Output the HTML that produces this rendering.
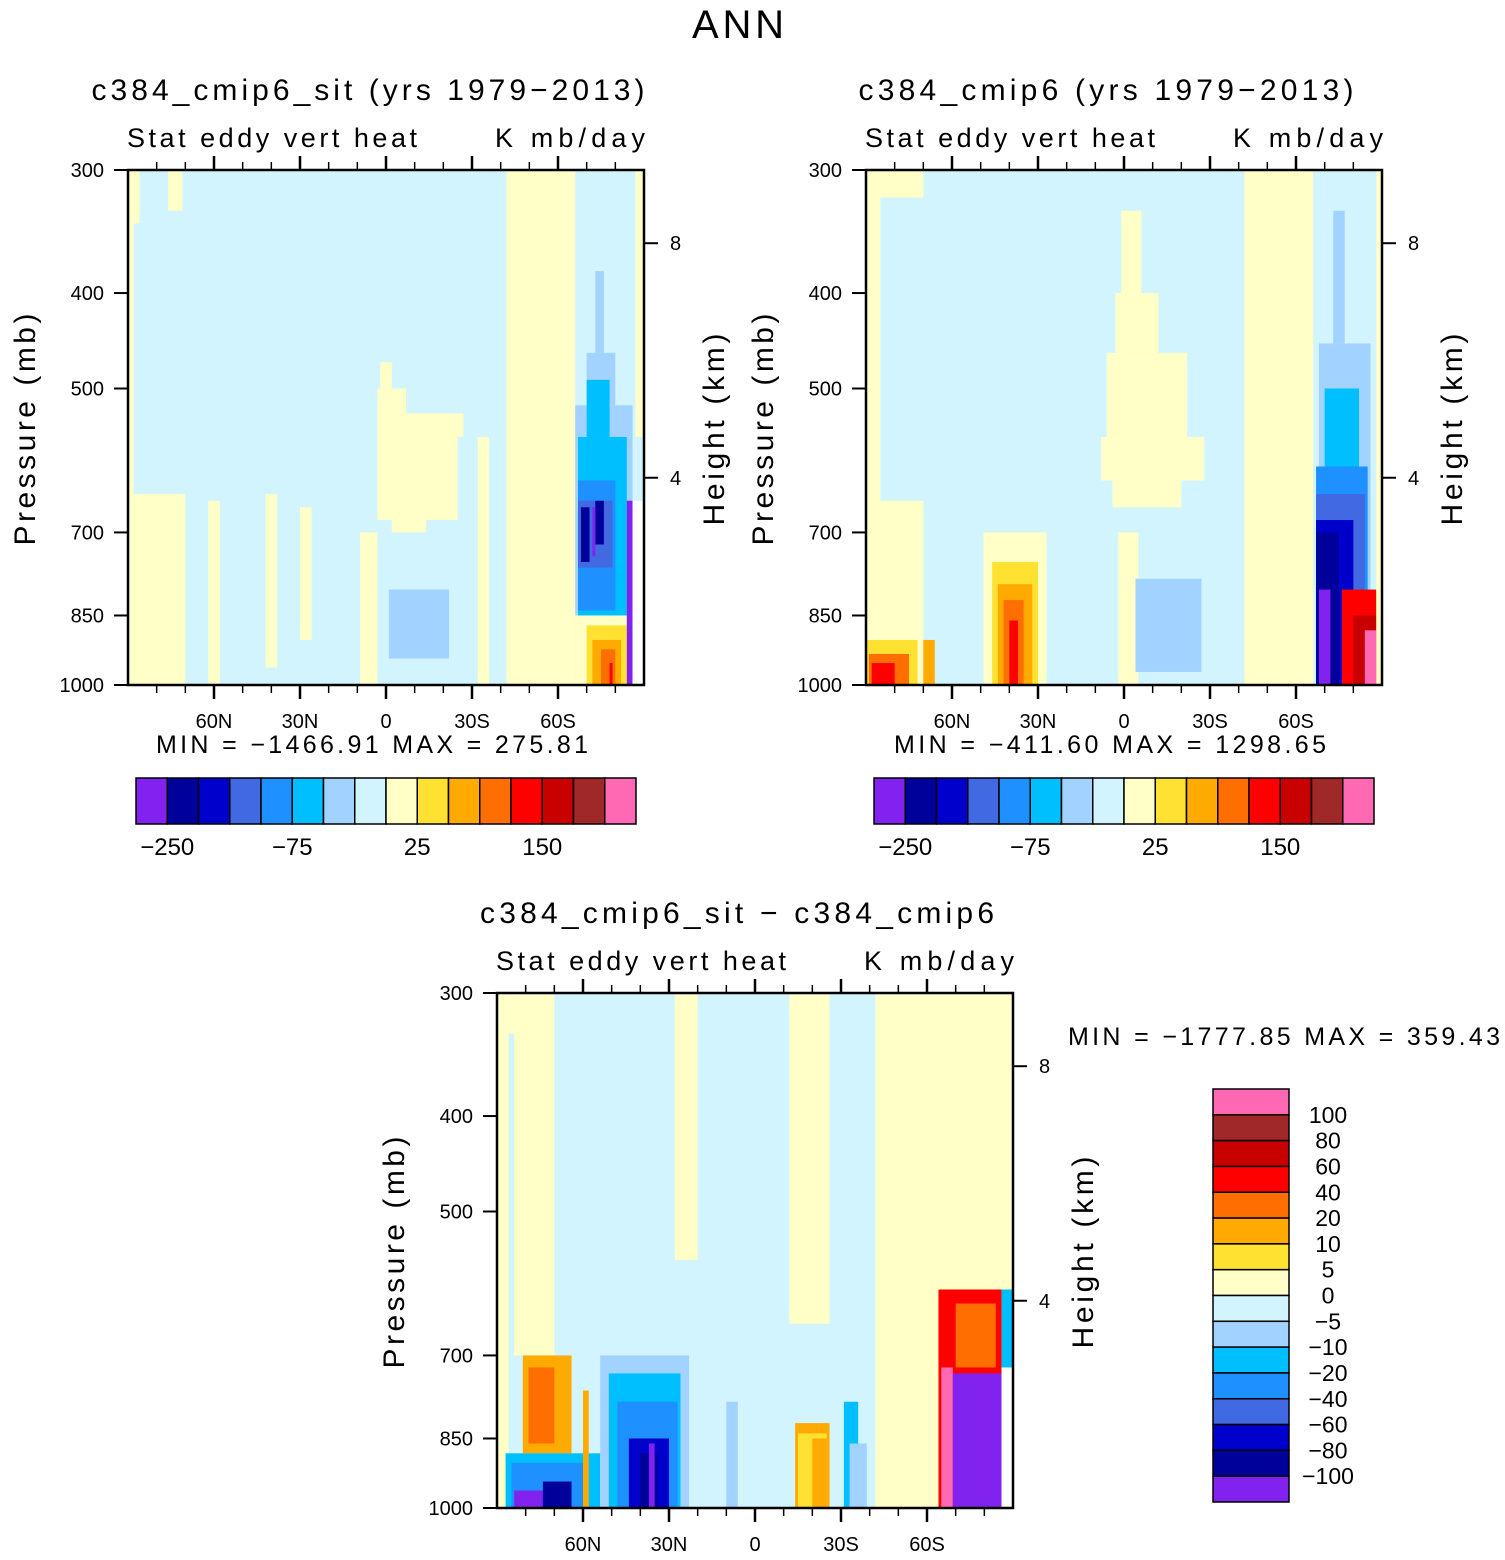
<!DOCTYPE html>
<html><head><meta charset="utf-8"><style>
html,body{margin:0;padding:0;background:#fff}
svg text{font-family:"Liberation Sans",sans-serif;fill:#000}
</style></head><body>
<svg id="root" width="1505" height="1555" viewBox="0 0 1505 1555" xmlns="http://www.w3.org/2000/svg">
<text x="738" y="38" font-size="40" text-anchor="middle" textLength="92">ANN</text>
</svg>
<script>
// colour levels (palette index 0..15)
const palette=["#8222ee","#00009a","#0000cd","#4169e1","#1e90ff","#00bfff","#a2d2ff","#d2f4ff","#ffffc8","#ffe132","#ffaa00","#ff6e00","#ff0000","#c80000","#a02828","#ff69b4"];
const latTicks=[60,30,0,-30,-60];
const latTickLabels=["60N","30N","0","30S","60S"];
const presTicks=[300,400,500,700,850,1000];
const heightTicks=[8,4];
const heightTickP=[356,616];
const barLabelsH=["−250","−75","25","150"];
const barLabelsV=["100","80","60","40","20","10","5","0","−5","−10","−20","−40","−60","−80","−100"];
// field regions: [latNorth, latSouth, pTop, pBottom, colourIndex]
const field1=[[90,88,300,1000,8],[90,86,300,340,8],[76,71,300,330,8],[90,70,640,1000,8],[62,58,650,1000,8],[42,38,640,960,8],[30,26,660,900,8],
[2,-2,470,500,8],[3,-7,500,560,8],[3,-25,560,680,8],[-7,-27,530,560,8],[-2,-14,680,700,8],[9,3,700,1000,8],[-32,-36,560,1000,8],
[-42,-66,300,1000,8],[-59,-63,300,340,8],[-87,-90,300,560,8],
[-1,-22,800,940,6],[-15,-19,820,880,6],
[-73,-76,380,460,6],[-70,-80,460,520,6],[-66,-86,520,850,6],[-70,-78,490,560,5],[-67,-84,560,850,5],[-67,-80,620,840,4],[-67,-79,650,760,3],[-68,-71,660,750,1],[-73,-76,650,720,1],[-72,-73,660,740,0],
[-66,-84,850,1000,8],[-70,-84,870,1000,9],[-72,-82,900,1000,10],[-75,-80,920,1000,11],[-78,-79,950,1000,12],[-84,-86,650,1000,0],[-86,-90,650,1000,-1]];
const field2=[[90,85,300,1000,8],[88,70,300,320,8],[90,70,650,1000,8],[90,72,900,1000,9],[89,75,930,1000,11],[88,80,950,1000,12],[70,66,900,1000,10],
[49,27,700,1000,8],[46,30,750,1000,9],[44,32,790,1000,10],[42,35,820,1000,11],[40,37,860,1000,12],
[2,-5,700,1000,8],[1,-6,330,400,8],[3,-12,400,460,8],[6,-22,460,560,8],[8,-28,560,620,8],[4,-20,620,660,8],
[-4,-27,780,970,6],[-42,-66,300,1000,8],[-58,-62,300,380,8],
[-73,-77,330,450,6],[-68,-86,450,1000,6],[-70,-82,500,1000,5],[-67,-85,600,1000,4],[-67,-84,640,1000,3],[-67,-80,680,1000,2],[-67,-75,700,1000,1],[-68,-72,800,1000,0],
[-76,-88,800,1000,12],[-80,-88,850,1000,13],[-84,-88,880,1000,15],[-88,-90,300,1000,8]];
const field3=[[90,86,300,1000,8],[90,84,300,330,8],[84,70,300,700,8],[81,64,700,880,10],[79,70,720,860,11],[87,54,880,1000,5],[85,60,900,1000,4],[84,70,960,1000,0],[74,64,940,1000,1],[60,58,760,1000,10],
[54,23,700,1000,6],[51,26,730,1000,5],[48,27,780,1000,4],[44,30,850,1000,2],[40,34,880,1000,1],[37,35,860,1000,0],
[28,20,300,560,8],[10,6,780,1000,6],[-12,-26,300,650,8],[-14,-26,820,1000,10],[-15,-25,840,1000,9],[-20,-25,850,1000,10],
[-31,-36,780,1000,5],[-33,-39,860,1000,6],[-42,-90,300,1000,8],
[-64,-86,600,1000,12],[-65,-69,720,1000,15],[-69,-86,730,1000,0],[-70,-84,620,720,11],[-86,-90,720,1000,-1],[-86,-90,600,720,5]];

const NS="http://www.w3.org/2000/svg";
const root=document.getElementById('root');
function mk(tag,attrs,parent){const e=document.createElementNS(NS,tag);for(const k in attrs)e.setAttribute(k,attrs[k]);(parent||root).appendChild(e);return e;}
function txt(s,x,y,size,anchor,parent,extra){const t=mk('text',Object.assign({x:x,y:y,'font-size':size,'text-anchor':anchor||'start'},extra||{}),parent);t.textContent=s;return t;}

function panel(name,x0,y0,field,title,tl,minmax,hasBar){
  const W=516,H=515;
  const g=mk('g',{});
  
  
  const X=lat=>x0+(90-lat)/180*W;
  const Y=p=>y0+Math.log(p/300)/Math.log(1000/300)*H;
  const bg=mk('rect',{x:x0,y:y0,width:W,height:H,fill:palette[7]},g);
  
  
  field.forEach(r=>{
    const el=mk('rect',{x:X(r[0]),y:Y(r[2]),width:X(r[1])-X(r[0]),height:Y(r[3])-Y(r[2]),fill:r[4]<0?'#fff':palette[r[4]]},g);
    
    
  });
  mk('rect',{x:x0,y:y0,width:W,height:H,fill:'none',stroke:'#000','stroke-width':2.5},g);
  const tt=txt(title,x0+W/2-18,y0-70,30,'middle',g,{textLength:tl});
  
  
  const s1=txt('Stat eddy vert heat',x0-1,y0-23,27,'start',g,{textLength:290});
  
  
  const s2=txt('K mb/day',x0+W+1,y0-23,27,'end',g,{textLength:150});
  
  
  presTicks.forEach(p=>{
    mk('line',{x1:x0-14,x2:x0,y1:Y(p),y2:Y(p),stroke:'#000','stroke-width':2},g);
    const l=txt(String(p),x0-24,Y(p)+7,20,'end',g);
    
    
  });
  heightTicks.forEach((h,i)=>{
    const yy=Y(heightTickP[i]);
    mk('line',{x1:x0+W,x2:x0+W+14,y1:yy,y2:yy,stroke:'#000','stroke-width':2},g);
    const l=txt(String(h),x0+W+26,yy+7,20,'start',g);
    
    
  });
  for(let lat=80;lat>=-80;lat-=10){
    const major=lat%30===0;
    const L=major?14:8,sw=major?2.5:1.5;
    mk('line',{x1:X(lat),x2:X(lat),y1:y0+H,y2:y0+H+L,stroke:'#000','stroke-width':sw},g);
    mk('line',{x1:X(lat),x2:X(lat),y1:y0,y2:y0-L,stroke:'#000','stroke-width':sw},g);
  }
  latTicks.forEach((lat,i)=>{
    const l=txt(latTickLabels[i],X(lat),y0+H+43,20,'middle',g);
    
    
  });
  const ya=txt('Pressure (mb)',0,0,30,'middle',g,{transform:`translate(${x0-93},${y0+H/2+2}) rotate(-90)`,textLength:232});
  
  
  const yb=txt('Height (km)',0,0,30,'middle',g,{transform:`translate(${x0+W+80},${y0+H/2+2}) rotate(-90)`,textLength:192});
  
  
  if(hasBar){
    const mm=txt(minmax,x0+W/2-14,y0+H+68,25,'middle',g,{textLength:432});
    
    
    const bx=x0+8,by=y0+H+93,bw=500/16;
    palette.forEach((c,i)=>{
      const b=mk('rect',{x:bx+i*bw,y:by,width:bw,height:46,fill:c,stroke:'#000','stroke-width':1.5},g);
      
      
    });
    barLabelsH.forEach((s,i)=>{
      const l=txt(s,bx+bw*(1+4*i),by+77,24,'middle',g);
      
      
    });
  }
  return g;
}
panel('panel-sit',128,170,field1,'c384_cmip6_sit (yrs 1979−2013)',553,'MIN = −1466.91   MAX = 275.81',true);
panel('panel-cmip6',866,170,field2,'c384_cmip6 (yrs 1979−2013)',495,'MIN = −411.60   MAX = 1298.65',true);
panel('panel-diff',497,993,field3,'c384_cmip6_sit − c384_cmip6',514,'',false);

const mm3=txt('MIN = −1777.85   MAX = 359.43',1068,1045,25,'start',root,{textLength:432});


const vb=mk('g',{});


const vh=413/16;
palette.slice().reverse().forEach((c,i)=>{
  const b=mk('rect',{x:1213,y:1089+i*vh,width:76,height:vh,fill:c,stroke:'#000','stroke-width':1.5},vb);
  
  
});
barLabelsV.forEach((s,i)=>{
  const l=txt(s,1328,1089+(i+1)*vh+8,23,'middle',vb);
  
  
});
</script>
</body></html>
